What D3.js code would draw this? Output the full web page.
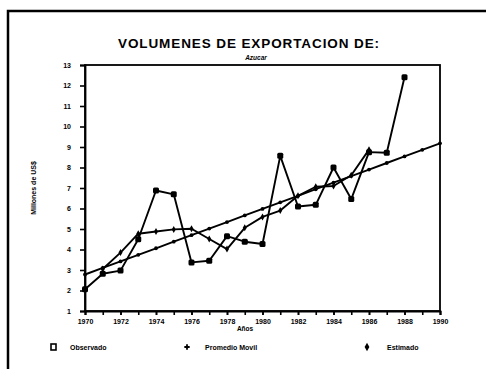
<!DOCTYPE html>
<html><head><meta charset="utf-8">
<script src="https://cdn.jsdelivr.net/npm/d3@7"></script>
<style>
html,body{margin:0;padding:0;background:#fff;}
text{font-family:"Liberation Sans",Arial,sans-serif;fill:#000;}
</style></head>
<body><svg id="c" width="486" height="369"></svg>
<script>
const title = "VOLUMENES DE EXPORTACION DE:";
const subtitle = "Azucar";
const yTitle = "Millones de US$";
const xTitle = "Años";
const seriesNames = ["Observado", "Promedio Movil", "Estimado"];

const obsYears = [1970,1971,1972,1973,1974,1975,1976,1977,1978,1979,1980,1981,1982,1983,1984,1985,1986,1987,1988];
const observado = [2.06,2.82,2.97,4.50,6.88,6.69,3.37,3.45,4.65,4.38,4.27,8.57,6.10,6.18,8.00,6.46,8.75,8.72,12.40];

const maYears = [1971,1972,1973,1974,1975,1976,1977,1978,1979,1980,1981,1982,1983,1984,1985,1986];
const promedioMovil = [3.05,3.85,4.77,4.88,4.98,5.01,4.51,4.02,5.06,5.59,5.90,6.62,7.06,7.10,7.62,8.87];

const estYears = [1970,1971,1972,1973,1974,1975,1976,1977,1978,1979,1980,1981,1982,1983,1984,1985,1986,1987,1988,1989,1990];
const estimado = [2.78,3.10,3.42,3.74,4.06,4.38,4.70,5.02,5.34,5.66,5.98,6.30,6.62,6.94,7.26,7.58,7.90,8.22,8.54,8.86,9.18];

const yTicks = [1,2,3,4,5,6,7,8,9,10,11,12,13];
const xMajor = [1970,1972,1974,1976,1978,1980,1982,1984,1986,1988,1990];
const xMinor = [1970,1971,1972,1973,1974,1975,1976,1977,1978,1979,1980,1981,1982,1983,1984,1985,1986,1987,1988,1989,1990];

const svg = d3.select("#c");
const L=85, R=440, T=65, B=311;
const x = d3.scaleLinear().domain([1970,1990]).range([L,R]);
const y = d3.scaleLinear().domain([1,13]).range([B,T]);

// outer frame (left + top)
svg.append("path").attr("d","M8,369 L8,11 L486,11").attr("fill","none").attr("stroke","#000").attr("stroke-width",2.5);

// plot box
svg.append("rect").attr("x",L).attr("y",T).attr("width",R-L).attr("height",B-T)
  .attr("fill","none").attr("stroke","#000").attr("stroke-width",1.8);

// y axis
const yAxis = d3.axisLeft(y).tickValues(yTicks).tickSize(5).tickPadding(9).tickFormat(d3.format("d"));
const gy = svg.append("g").attr("transform",`translate(${L},0)`).call(yAxis);
gy.select(".domain").attr("stroke-width",1.8);
gy.selectAll(".tick line").attr("stroke-width",1.6);
gy.selectAll("text").attr("font-size",7).attr("font-weight","bold");

// x axis
const xAxisMinor = d3.axisBottom(x).tickValues(xMinor).tickSize(4).tickFormat("");
const gxm = svg.append("g").attr("transform",`translate(0,${B})`).call(xAxisMinor);
gxm.select(".domain").attr("stroke-width",1.8);
gxm.selectAll(".tick line").attr("stroke-width",1.6);
const xAxis = d3.axisBottom(x).tickValues(xMajor).tickSize(4).tickPadding(4).tickFormat(d3.format("d"));
const gx = svg.append("g").attr("transform",`translate(0,${B})`).call(xAxis);
gx.select(".domain").remove();
gx.selectAll(".tick line").attr("stroke-width",1.6);
gx.selectAll("text").attr("font-size",7).attr("font-weight","bold");

// titles
svg.append("text").attr("x",249).attr("y",48).attr("text-anchor","middle")
  .attr("font-size",13.5).attr("font-weight","bold").attr("letter-spacing",0.9).text(title);
svg.append("text").attr("x",256).attr("y",60).attr("text-anchor","middle")
  .attr("font-size",6.5).attr("font-weight","bold").attr("font-style","italic").text(subtitle);
svg.append("text").attr("transform","translate(36,188) rotate(-90)").attr("text-anchor","middle")
  .attr("font-size",7).attr("font-weight","bold").text(yTitle);
svg.append("text").attr("x",245).attr("y",331).attr("text-anchor","middle")
  .attr("font-size",6.5).attr("font-weight","bold").text(xTitle);

// lines
const line = d3.line().x(d=>x(d[0])).y(d=>y(d[1]));
const obs = obsYears.map((t,i)=>[t,observado[i]]);
const ma = maYears.map((t,i)=>[t,promedioMovil[i]]);
const est = estYears.map((t,i)=>[t,estimado[i]]);

[est, ma, obs].forEach(s=>{
  svg.append("path").datum(s).attr("d",line).attr("fill","none")
    .attr("stroke","#000").attr("stroke-width",1.9).attr("stroke-linejoin","round");
});

// markers
svg.append("g").selectAll("circle").data(est).join("circle")
  .attr("cx",d=>x(d[0])).attr("cy",d=>y(d[1])).attr("r",1.9).attr("fill","#000");
svg.append("g").selectAll("path").data(ma).join("path")
  .attr("transform",d=>`translate(${x(d[0])},${y(d[1])})`)
  .attr("d",d3.symbol(d3.symbolDiamond,14)).attr("fill","#000");
svg.append("g").selectAll("rect").data(obs).join("rect")
  .attr("x",d=>x(d[0])-3).attr("y",d=>y(d[1])-3).attr("width",6).attr("height",6)
  .attr("rx",1.5).attr("fill","#000");

// legend
const ly = 347;
svg.append("rect").attr("x",51).attr("y",ly-3).attr("width",5).attr("height",6)
  .attr("fill","none").attr("stroke","#000").attr("stroke-width",1.6);
svg.append("text").attr("x",70).attr("y",ly+2.5).attr("font-size",7).attr("font-weight","bold").text(seriesNames[0]);
svg.append("path").attr("transform",`translate(187,${ly})`).attr("d",d3.symbol(d3.symbolCross,16)).attr("fill","#000");
svg.append("text").attr("x",205).attr("y",ly+2.5).attr("font-size",7).attr("font-weight","bold").text(seriesNames[1]);
svg.append("path").attr("transform",`translate(367,${ly})`).attr("d",d3.symbol(d3.symbolDiamond,20)).attr("fill","#000");
svg.append("text").attr("x",387).attr("y",ly+2.5).attr("font-size",7).attr("font-weight","bold").text(seriesNames[2]);
</script></body></html>
